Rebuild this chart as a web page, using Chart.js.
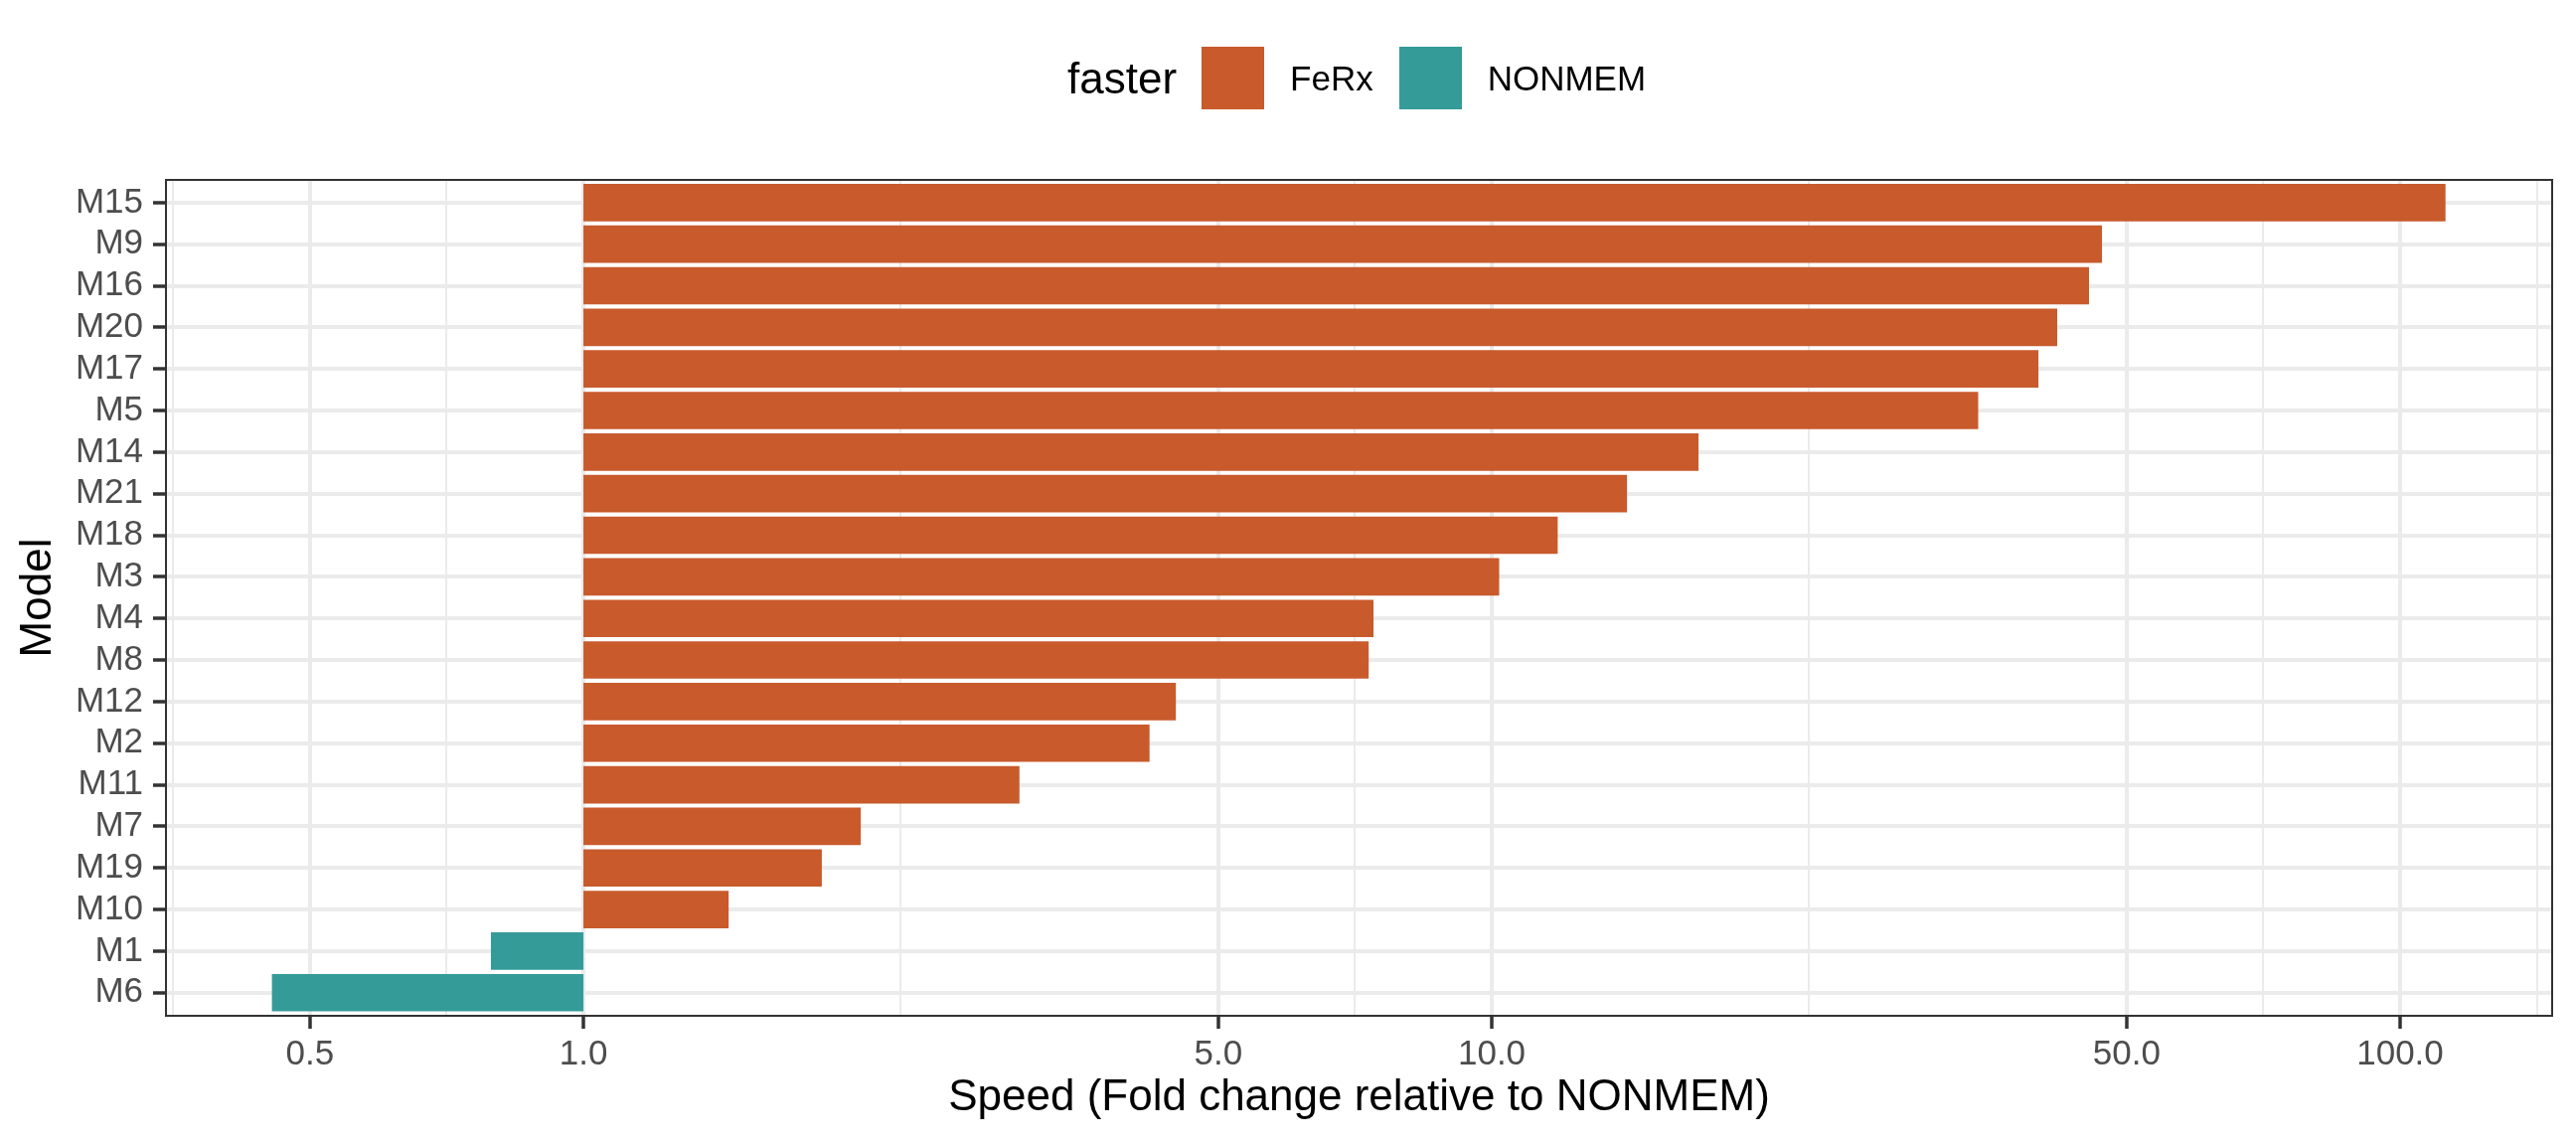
<!DOCTYPE html>
<html>
<head>
<meta charset="utf-8">
<title>Speed (Fold change relative to NONMEM)</title>
<script src="https://cdn.jsdelivr.net/npm/chart.js@4.4.1/dist/chart.umd.min.js"></script>
<style>
  html, body { margin: 0; padding: 0; background: #ffffff; }
  #wrap { position: relative; width: 2592px; height: 1152px; }
  #legend {
    position: absolute; left: 1074px; top: 47px; height: 63px;
    display: flex; align-items: center;
    font-family: 'Liberation Sans', Arial, sans-serif; color: #000000;
  }
  #legend .title { font-size: 44px; margin-right: 25px; }
  #legend .swatch { width: 63px; height: 63px; margin-right: 26px; }
  #legend .label { font-size: 35px; margin-right: 26px; }
</style>
</head>
<body>
<div id="wrap">
  <canvas id="speedChart" width="2592" height="1152"></canvas>
  <div id="legend"></div>
</div>
<script>
// ===== data =====
const models = ['M15', 'M9', 'M16', 'M20', 'M17', 'M5', 'M14', 'M21', 'M18', 'M3',
                'M4', 'M8', 'M12', 'M2', 'M11', 'M7', 'M19', 'M10', 'M1', 'M6'];
const speedFold = [112.2, 46.97, 45.45, 41.93, 39.98, 34.32, 16.89, 14.09, 11.82, 10.19,
                   7.41, 7.32, 4.49, 4.20, 3.02, 2.02, 1.83, 1.445, 0.791, 0.454];
const fasterTool = ['FeRx', 'FeRx', 'FeRx', 'FeRx', 'FeRx', 'FeRx', 'FeRx', 'FeRx', 'FeRx', 'FeRx',
                    'FeRx', 'FeRx', 'FeRx', 'FeRx', 'FeRx', 'FeRx', 'FeRx', 'FeRx', 'NONMEM', 'NONMEM'];
const groups = ['FeRx', 'NONMEM'];
const groupColors = ['#C85A2C', '#349B98'];
const baseline = 1;

const xTickValues = [0.5, 1, 5, 10, 50, 100];
const xTickLabels = ['0.5', '1.0', '5.0', '10.0', '50.0', '100.0'];
const xMinorValues = [0.3536, 0.7071, 2.236, 7.071, 22.36, 70.71, 141.4];

Chart.defaults.font.family = "'Liberation Sans', Arial, sans-serif";

function buildDataset(group, color) {
    const points = [];
    models.forEach((m, i) => {
        if (fasterTool[i] === group) points.push({ x: [baseline, speedFold[i]], y: i });
    });
    return {
        label: group,
        data: points,
        backgroundColor: color,
        borderWidth: 0,
        barPercentage: 0.9,
        categoryPercentage: 1,
        grouped: false
    };
}

function buildLegend() {
    const el = document.getElementById('legend');
    let html = '<span class="title">faster</span>';
    groups.forEach((g, i) => {
        html += `<span class="swatch" style="background:${groupColors[i]}"></span><span class="label">${g}</span>`;
    });
    el.innerHTML = html;
}

// ggplot style panel border, drawn over the bars
const panelBorder = {
    id: 'panelBorder',
    afterDatasetsDraw(chart) {
        const { ctx, chartArea: a } = chart;
        ctx.save();
        ctx.strokeStyle = '#333333';
        ctx.lineWidth = 2;
        ctx.strokeRect(a.left + 1, a.top + 1, a.right - a.left - 2, a.bottom - a.top - 2);
        ctx.restore();
    }
};

const isMinor = (c) => c.tick && c.tick.minor;

buildLegend();

new Chart(document.getElementById('speedChart').getContext('2d'), {
    type: 'bar',
    data: {
        datasets: groups.map((g, i) => buildDataset(g, groupColors[i]))
    },
    options: {
        indexAxis: 'y',
        responsive: false,
        devicePixelRatio: 1,
        animation: false,
        layout: { padding: { top: 180, right: 23, bottom: 0, left: 0 } },
        plugins: {
            legend: { display: false },
            tooltip: { enabled: false }
        },
        scales: {
            x: {
                type: 'logarithmic',
                bounds: 'data',
                min: 0.3462,
                max: 147.4,
                afterBuildTicks: (axis) => {
                    const ticks = xTickValues.map((v, i) => ({ value: v, text: xTickLabels[i] }));
                    xMinorValues.forEach(v => ticks.push({ value: v, minor: true }));
                    ticks.sort((a, b) => a.value - b.value);
                    axis.ticks = ticks;
                },
                afterFit: (axis) => { axis.height = 129; },
                ticks: {
                    autoSkip: false,
                    maxRotation: 0,
                    padding: 5,
                    color: '#4D4D4D',
                    font: { size: 35 },
                    callback: (v, i, t) => t[i].minor ? '' : t[i].text
                },
                grid: {
                    color: '#EBEBEB',
                    lineWidth: (c) => isMinor(c) ? 2 : 4,
                    tickColor: (c) => isMinor(c) ? 'rgba(0,0,0,0)' : '#333333',
                    tickLength: 12,
                    tickWidth: 3.5
                },
                border: { display: false },
                title: {
                    display: true,
                    text: 'Speed (Fold change relative to NONMEM)',
                    color: '#000000',
                    font: { size: 44 },
                    padding: { top: 0, bottom: 21 }
                }
            },
            y: {
                type: 'linear',
                reverse: true,
                min: -0.57,
                max: 19.58,
                offset: false,
                afterBuildTicks: (axis) => { axis.ticks = models.map((m, i) => ({ value: i })); },
                afterFit: (axis) => { axis.width = 166; },
                ticks: {
                    autoSkip: false,
                    padding: 10,
                    color: '#4D4D4D',
                    font: { size: 35 },
                    callback: (v) => models[v]
                },
                grid: {
                    offset: false,
                    color: '#EBEBEB',
                    lineWidth: 4,
                    tickColor: '#333333',
                    tickLength: 12,
                    tickWidth: 3.5
                },
                border: { display: false },
                title: {
                    display: true,
                    text: 'Model',
                    color: '#000000',
                    font: { size: 44 },
                    padding: { top: 12, bottom: 0 }
                }
            }
        }
    },
    plugins: [panelBorder]
});
</script>
</body>
</html>
